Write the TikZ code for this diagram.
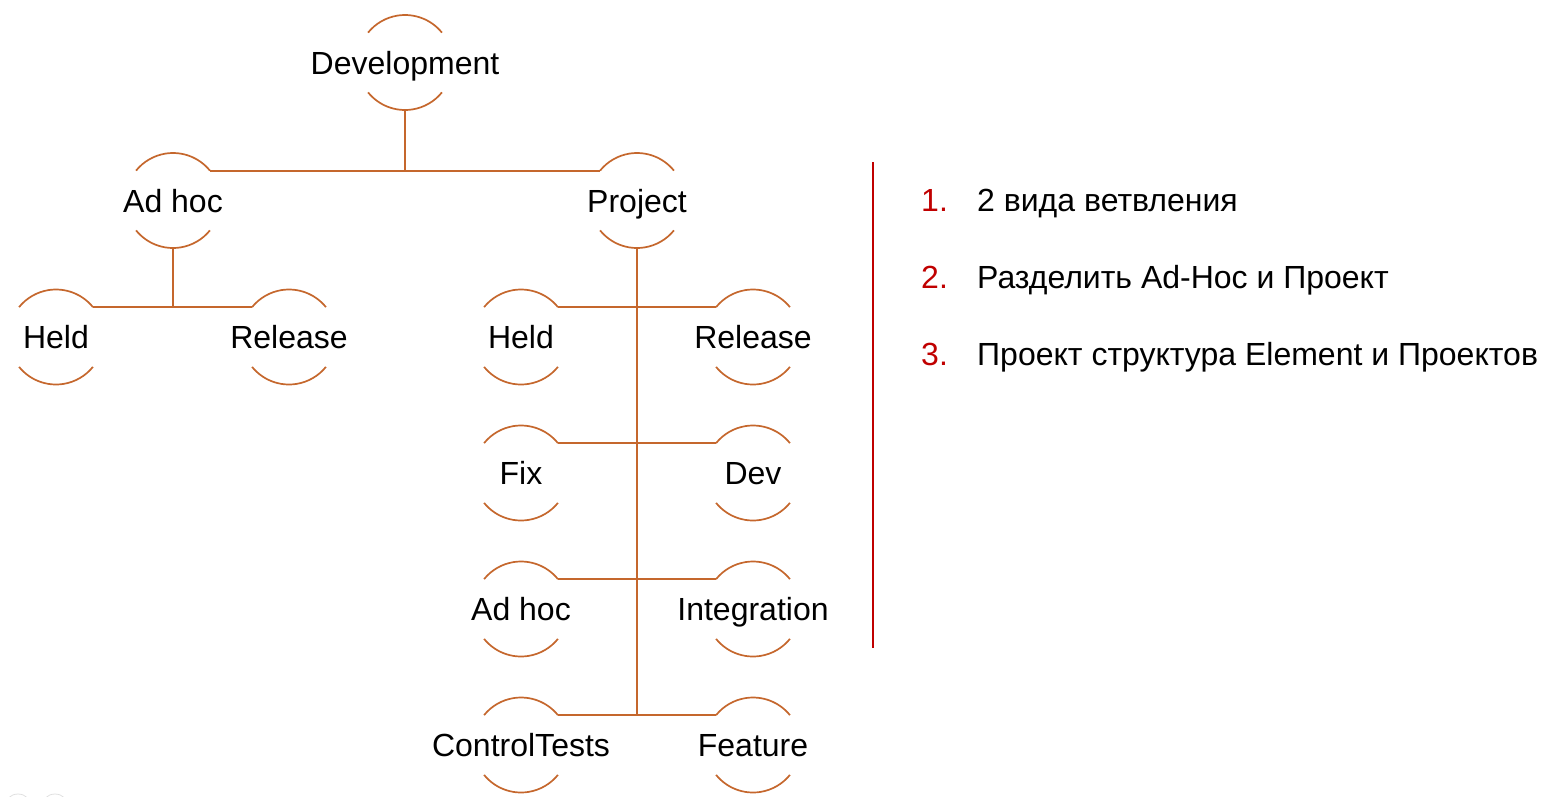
\documentclass[tikz,border=0pt]{standalone}
\usepackage{fontspec}
\setmainfont{Liberation Sans}
\definecolor{branch}{RGB}{197,103,45}
\definecolor{redline}{RGB}{192,0,0}
\begin{document}
\begin{tikzpicture}[x=1pt,y=1pt,
  ring/.style={anchor=base,inner sep=0pt,outer sep=0pt,font=\fontsize{32}{38}\selectfont},
  arcline/.style={draw=branch,line width=1.7pt},
  conn/.style={draw=branch,line width=1.9pt},
  item/.style={anchor=base west,inner sep=0pt,font=\fontsize{32}{38}\selectfont},
  num/.style={item,text=redline}]
\useasboundingbox (0,0) rectangle (1547,-796);
% nodes: centre coordinate, text label, and the two arcs
\foreach \n/\x/\y/\t in {dev/405/62.5/Development, adhoc/173/200.5/Ad hoc, proj/637/200.5/Project,
  heldA/56/337/Held, relA/289/337/Release, heldB/521/337/Held, relB/753/337/Release,
  fix/521/473/Fix, devB/753/473/Dev, adhocB/521/609/Ad hoc, integ/753/609/Integration,
  ctest/521/745/ControlTests, feat/753/745/Feature}{
  \coordinate (\n) at (\x,-\y);
  \node[ring] (\n-label) at (\x,{-\y-11.5}) {\t};
  \coordinate (\n-ne) at ([shift={(39:47.5)}]\n);
  \coordinate (\n-nw) at ([shift={(141:47.5)}]\n);
  \coordinate (\n-s) at ([shift={(270:47.5)}]\n);
  \draw[arcline] (\n-ne) arc[start angle=39,end angle=141,radius=47.5];
  \draw[arcline] ([shift={(219:47.5)}]\n) arc[start angle=219,end angle=321,radius=47.5];
}
% connectors
\draw[conn] (adhoc-ne) -- (proj-nw);
\draw[conn] (dev-s) -- (dev-s |- adhoc-ne);
\draw[conn] (heldA-ne) -- (relA-nw);
\draw[conn] (adhoc-s) -- (adhoc-s |- heldA-ne);
\draw[conn] (proj-s) -- (proj-s |- feat-nw);
\draw[conn] (heldB-ne) -- (relB-nw);
\draw[conn] (fix-ne) -- (devB-nw);
\draw[conn] (adhocB-ne) -- (integ-nw);
\draw[conn] (ctest-ne) -- (feat-nw);
% right panel
\coordinate (rtop) at (873,-162);
\coordinate (rbot) at (873,-648);
\draw[redline,line width=1.6pt] (rtop) -- (rbot);
\node[num] (n1) at (921,-211) {1.};
\node[item] (t1) at (977,-211) {2 вида ветвления};
\node[num] (n2) at (921,-288) {2.};
\node[item] (t2) at (977,-288) {Разделить Ad-Hoc и Проект};
\node[num] (n3) at (921,-365) {3.};
\node[item] (t3) at (977,-365) {Проект структура Element и Проектов};
% faint slide controls
\draw[gray!25,line width=0.8pt] (18,-808) circle[radius=14];
\draw[gray!25,line width=0.8pt] (55,-808) circle[radius=14];
\end{tikzpicture}
\end{document}
